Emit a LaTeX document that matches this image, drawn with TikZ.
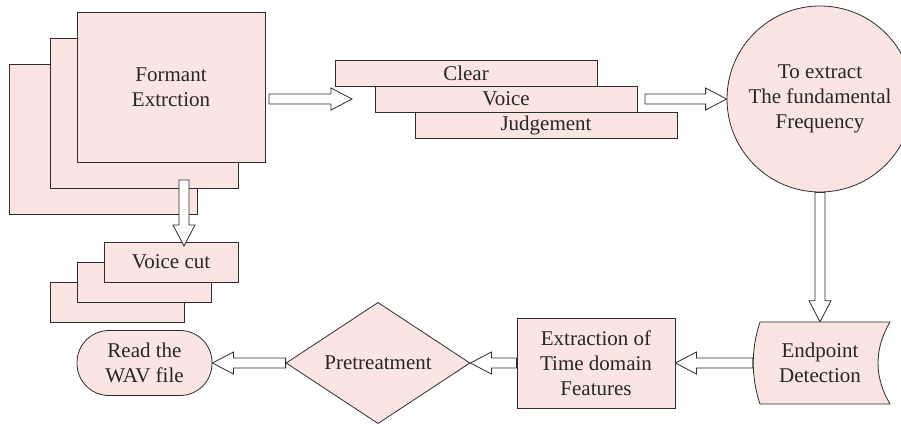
\documentclass[tikz,border=0pt]{standalone}
\usepackage{fontspec}
\setmainfont{Liberation Serif}
\usetikzlibrary{calc,shapes.geometric}

\definecolor{boxfill}{RGB}{250,229,227}
\definecolor{edge}{RGB}{45,45,45}

\tikzset{
  lbl/.style={font=\fontsize{21}{25}\selectfont, text=black!85, align=center},
  card/.style={lbl, draw=edge, fill=boxfill, line width=0.8pt, rectangle,
    inner sep=0pt},
  sheet/.style={card, minimum width=188pt, minimum height=150pt},
  slip/.style={card, minimum width=134pt, minimum height=40pt},
  bar/.style={card, minimum width=262pt, minimum height=26pt},
  outline/.style={draw=edge, fill=boxfill, line width=0.8pt},
  % hollow block arrow from start to target
  fat/.style={draw=edge, fill=white, line width=0.8pt, line join=miter,
    to path={
      ($(\tikztostart)!5pt!90:(\tikztotarget)$)
      -- ($($(\tikztotarget)!21pt!(\tikztostart)$)!5pt!90:(\tikztotarget)$)
      -- ($($(\tikztotarget)!21pt!(\tikztostart)$)!11pt!90:(\tikztotarget)$)
      -- (\tikztotarget)
      -- ($($(\tikztotarget)!21pt!(\tikztostart)$)!11pt!-90:(\tikztotarget)$)
      -- ($($(\tikztotarget)!21pt!(\tikztostart)$)!5pt!-90:(\tikztotarget)$)
      -- ($(\tikztostart)!5pt!-90:(\tikztotarget)$)
      -- cycle}}
}

\begin{document}
\begin{tikzpicture}[x=1pt,y=-1pt]
\useasboundingbox (0,0) rectangle (901,423);
\clip (0,0) rectangle (901,423);

% stacked sheets: formant extraction
\node[sheet] (fe3) at (103.5,139.5) {};
\node[sheet] (fe2) at (144,113) {};
\node[sheet] (fe) at (171,87) {Formant\\Extrction};

% stacked slips: voice cut
\node[slip] (vc3) at (117,302) {};
\node[slip] (vc2) at (144,282) {};
\node[slip] (vc) at (171,262) {Voice cut};

% clear / voice / judgement bars
\node[bar] (b1) at (466,73.5) {Clear};
\node[bar] (b2) at (506,99) {Voice};
\node[bar] (b3) at (546,125) {Judgement};

% fundamental frequency
\node[lbl, circle, draw=edge, fill=boxfill, line width=0.8pt, inner sep=0pt,
      minimum size=186pt] (ff) at (820,99) {To extract\\The fundamental\\Frequency};

% endpoint detection (stored-data outline)
\coordinate (epc) at (820,363);
\draw[outline] ($(epc)+(-60,-41)$) -- ($(epc)+(70,-41)$)
  .. controls ($(epc)+(54,-14)$) and ($(epc)+(54,14)$) .. ($(epc)+(70,41)$)
  -- ($(epc)+(-60,41)$)
  .. controls ($(epc)+(-69,14)$) and ($(epc)+(-69,-14)$) .. ($(epc)+(-60,-41)$)
  -- cycle;
\node[lbl, minimum width=134pt, minimum height=82pt, inner sep=0pt] (ep) at (epc) {Endpoint\\Detection};

% time domain features
\node[card, minimum width=158pt, minimum height=90pt] (td) at (596,363)
  {Extraction of\\Time domain\\Features};

% pretreatment
\node[lbl, diamond, draw=edge, fill=boxfill, line width=0.8pt, inner sep=0pt,
      minimum width=184pt, minimum height=118pt] (pt) at (378,363) {Pretreatment};

% read the file
\node[card, rounded corners=32pt, minimum width=135pt, minimum height=65pt]
  (rw) at (144.5,363) {Read the\\WAV file};

% free arrow ends
\coordinate (feOut) at (269,99);
\coordinate (bIn) at (352,99);
\coordinate (bOut) at (645,99);
\coordinate (feDown) at (184,180);
\coordinate (vcIn) at (184,246);

% connectors
\draw[fat] (feOut) to (bIn);
\draw[fat] (bOut) to (ff.west);
\draw[fat] (ff.south) to (ff.south |- ep.north);
\draw[fat] (ep.west) to (ep.west -| td.east);
\draw[fat] (td.west) to (td.west -| pt.east);
\draw[fat] (pt.west) to (pt.west -| rw.east);
\draw[fat] (feDown) to (vcIn);
\end{tikzpicture}
\end{document}
